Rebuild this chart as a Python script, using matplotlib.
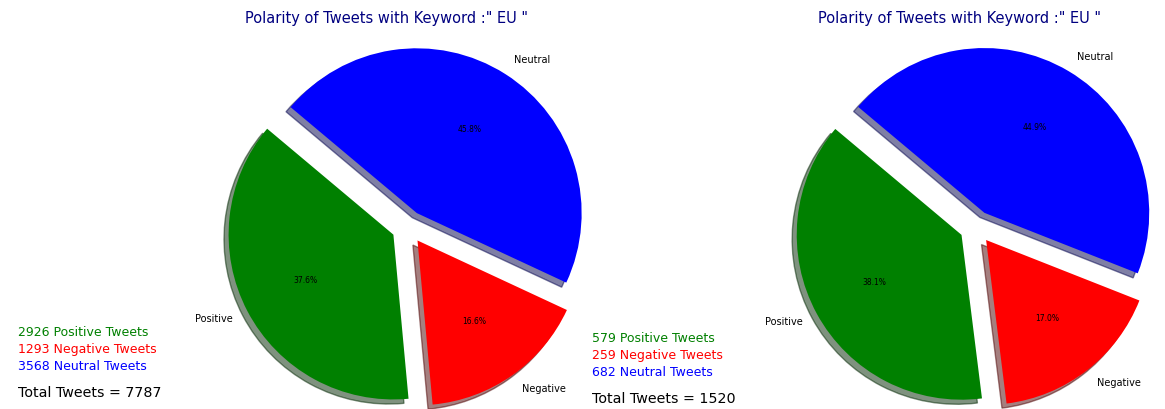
import matplotlib
matplotlib.use("Agg")
import matplotlib.pyplot as plt

# ---------------------------
# DATA
# ---------------------------
labels = ['Positive', 'Negative', 'Neutral']
colors = ['green', 'red', 'blue']

# keyword "EU" - full sample
counts_all = [2926, 1293, 3568]
# keyword "EU" - second sample
counts_sub = [579, 259, 682]

keyword = "EU"

# ---------------------------
# FIGURE
# ---------------------------
W, H = 1165, 409
fig = plt.figure(figsize=(W / 100, H / 100), dpi=100)


def add_pie(cx, cy, counts):
    # square axes in pixel units, pie radius of 165 px
    side = 412
    ax = fig.add_axes([(cx - side / 2) / W, (H - cy - side / 2) / H, side / W, side / H])
    wedges, texts, autotexts = ax.pie(
        counts, labels=labels, colors=colors, explode=(0.1, 0.1, 0.1),
        autopct='%1.1f%%', startangle=140, shadow=True,
        pctdistance=0.6, labeldistance=1.1)
    for t in texts:
        t.set_fontsize(7)
    for t in autotexts:
        t.set_fontsize(5.5)
    ax.set_xlim(-1.25, 1.25)
    ax.set_ylim(-1.25, 1.25)
    ax.set_aspect('equal')
    return ax


def add_summary(x, y, counts):
    total = sum(counts)
    lines = [f"{counts[0]} Positive Tweets", f"{counts[1]} Negative Tweets",
             f"{counts[2]} Neutral Tweets"]
    for i, (txt, c) in enumerate(zip(lines, colors)):
        fig.text(x / W, 1 - (y + i * 16.5) / H, txt, color=c, fontsize=9, va='center')
    fig.text(x / W, 1 - (y + 60) / H, f"Total Tweets = {total}", color='black',
             fontsize=10.3, va='center')


title = f'Polarity of Tweets with Keyword :" {keyword} "'

add_pie(408, 227, counts_all)
fig.text(387 / W, 1 - 18 / H, title, color='navy', fontsize=10.5, ha='center', va='center')
add_summary(18, 333, counts_all)

add_pie(976, 227, counts_sub)
fig.text(960 / W, 1 - 18 / H, title, color='navy', fontsize=10.5, ha='center', va='center')
add_summary(592, 339, counts_sub)

fig.savefig("out.png", dpi=100)
